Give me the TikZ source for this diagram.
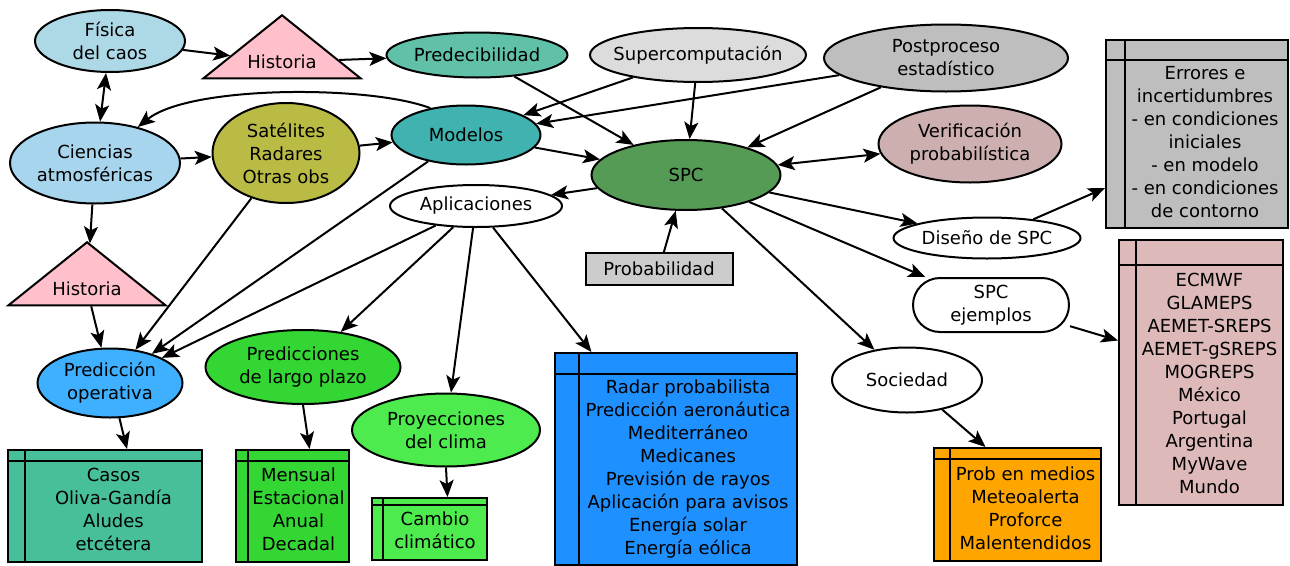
\documentclass[tikz,border=0pt]{standalone}
\usepackage{fontspec}
\setmainfont{DejaVu Sans}
\usetikzlibrary{arrows.meta, shapes.geometric}
\definecolor{caosfill}{HTML}{ADD8E6}
\definecolor{histfill}{HTML}{FFC0CB}
\definecolor{predfill}{HTML}{60C0A8}
\definecolor{supfill}{HTML}{DCDCDC}
\definecolor{postfill}{HTML}{BEBEBE}
\definecolor{ciefill}{HTML}{A8D5EE}
\definecolor{satfill}{HTML}{B9BB45}
\definecolor{modfill}{HTML}{40B2B0}
\definecolor{spcfill}{HTML}{559A55}
\definecolor{verfill}{HTML}{CDAFAF}
\definecolor{ejfill}{HTML}{DDB9B9}
\definecolor{opfill}{HTML}{3FAFFF}
\definecolor{largofill}{HTML}{33D633}
\definecolor{climafill}{HTML}{4DEB4D}
\definecolor{casosfill}{HTML}{47BF9A}
\definecolor{aplifill}{HTML}{1E90FF}
\definecolor{socfill}{HTML}{FFA500}
\definecolor{probfill}{HTML}{CCCCCC}
\definecolor{edgecol}{HTML}{000000}
% text of a list box, pushed right of the column and below the header
\newcommand{\boxlines}[3]{\hspace*{#1}\raisebox{0pt}[\dimexpr\height+#2\relax]{\begin{tabular}{@{}c@{}}#3\end{tabular}}}
\tikzset{
    every node/.style={font=\fontsize{18}{23}\selectfont},
    ell/.style={
        ellipse, draw=edgecol, line width=2pt, inner sep=0pt, align=center,
    },
    tri/.style={
        isosceles triangle, isosceles triangle apex angle=120,
        isosceles triangle stretches, shape border rotate=90,
        draw=edgecol, line width=2pt, fill=histfill, inner sep=0pt,
        minimum width=157pt, minimum height=63pt,
    },
    listbox/.style 2 args={
        rectangle, draw=edgecol, line width=2pt, inner sep=0pt,
        path picture={
            \draw[edgecol, line width=2pt]
                ([yshift=-#2]path picture bounding box.north west) --
                ([yshift=-#2]path picture bounding box.north east);
            \draw[edgecol, line width=2pt]
                ([xshift=#1]path picture bounding box.north west) --
                ([xshift=#1]path picture bounding box.south west);
        },
    },
    arr/.style={-{Stealth[length=17pt, width=14pt, inset=4pt]}, edgecol, line width=2pt},
    arrboth/.style={{Stealth[length=17pt, width=14pt, inset=4pt]}-{Stealth[length=17pt, width=14pt, inset=4pt]}, edgecol, line width=2pt},
}

\begin{document}
\begin{tikzpicture}[x=1pt, y=-1pt]
\useasboundingbox (0,0) rectangle (1290,565);

% ── Top row ────────────────────────────────────────────────────────
\node[ell, fill=caosfill, minimum width=150pt, minimum height=62pt] (fisica) at (110,41) {Física\\del caos};
\node[tri] (hist1) at (282,62) {Historia};
\node[ell, fill=predfill, minimum width=181pt, minimum height=45pt] (predec) at (477,55) {Predecibilidad};
\node[ell, fill=supfill, minimum width=216pt, minimum height=54pt, inner xsep=-12pt] (supcomp) at (698,55) {Supercomputación};
\node[ell, fill=postfill, minimum width=244pt, minimum height=67pt] (postpro) at (946,58) {Postproceso\\estadístico};

% ── Middle ─────────────────────────────────────────────────────────
\node[ell, fill=ciefill, minimum width=170pt, minimum height=81pt] (ciencias) at (95,163) {Ciencias\\atmosféricas};
\node[ell, fill=satfill, minimum width=147pt, minimum height=100pt] (satel) at (286,153) {Satélites\\Radares\\Otras obs};
\node[ell, fill=modfill, minimum width=149pt, minimum height=59pt] (modelos) at (466,135) {Modelos};
\node[ell, fill=spcfill, minimum width=189pt, minimum height=70pt] (spc) at (686,175) {SPC};
\node[ell, fill=verfill, minimum width=183pt, minimum height=77pt] (verif) at (970,144) {Verificación\\probabilística};
\node[ell, fill=white, minimum width=172pt, minimum height=42pt] (aplic) at (476,206) {Aplicaciones};
\node[ell, fill=white, minimum width=187pt, minimum height=41pt, inner xsep=-6pt] (diseno) at (987,238) {Diseño de SPC};
\node[rectangle, draw=edgecol, line width=2pt, fill=probfill, minimum width=147pt, minimum height=32pt] (probab) at (659,269) {Probabilidad};
\node[tri] (hist2) at (87,289) {Historia};
\node[rectangle, rounded corners=27pt, draw=edgecol, line width=2pt, fill=white, align=center,
      minimum width=156pt, minimum height=54pt, inner sep=0pt] (ejemplos) at (991,305) {SPC\\ejemplos};

% ── Lower ellipses ─────────────────────────────────────────────────
\node[ell, fill=opfill, minimum width=145pt, minimum height=69pt] (predop) at (110,383) {Predicción\\operativa};
\node[ell, fill=largofill, minimum width=195pt, minimum height=74pt] (largo) at (303,367) {Predicciones\\de largo plazo};
\node[ell, fill=climafill, minimum width=188pt, minimum height=73pt] (proyec) at (446,430) {Proyecciones\\del clima};
\node[ell, fill=white, minimum width=150pt, minimum height=65pt] (socied) at (907,380) {Sociedad};

% ── List boxes ─────────────────────────────────────────────────────
\node[listbox={19pt}{20pt}, fill=postfill, minimum width=182pt, minimum height=188pt] (errores) at (1197,134)
    {\boxlines{16pt}{20pt}{Errores e\\incertidumbres\\- en condiciones\\iniciales\\- en modelo\\- en condiciones\\de contorno}};
\node[listbox={17pt}{25pt}, fill=ejfill, minimum width=164pt, minimum height=265pt] (modlist) at (1201,372.5)
    {\boxlines{17pt}{25pt}{ECMWF\\GLAMEPS\\AEMET-SREPS\\AEMET-gSREPS\\MOGREPS\\México\\Portugal\\Argentina\\MyWave\\Mundo}};
\node[listbox={24pt}{21pt}, fill=aplifill, minimum width=242pt, minimum height=212pt] (aplilist) at (676,459)
    {\boxlines{24pt}{21pt}{Radar probabilista\\Predicción aeronáutica\\Mediterráneo\\Medicanes\\Previsión de rayos\\Aplicación para avisos\\Energía solar\\Energía eólica}};
\node[listbox={17pt}{11pt}, fill=casosfill, minimum width=194pt, minimum height=112pt] (casos) at (105,506)
    {\boxlines{17pt}{11pt}{Casos\\Oliva-Gandía\\Aludes\\etcétera}};
\node[listbox={12pt}{11pt}, fill=largofill, minimum width=113pt, minimum height=112pt] (plazos) at (292.5,506)
    {\boxlines{12pt}{11pt}{Mensual\\Estacional\\Anual\\Decadal}};
\node[listbox={11pt}{7pt}, fill=climafill, minimum width=115pt, minimum height=62pt] (cambio) at (429.5,529)
    {\boxlines{11pt}{7pt}{Cambio\\climático}};
\node[listbox={16pt}{11pt}, fill=socfill, minimum width=167pt, minimum height=113pt] (medios) at (1017.5,504.5)
    {\boxlines{16pt}{11pt}{Prob en medios\\Meteoalerta\\Proforce\\Malentendidos}};

% ── Edges ──────────────────────────────────────────────────────────
\draw[arr] (fisica) -- (hist1);
\draw[arr] (hist1) -- (predec);
\draw[arrboth] (fisica) -- (ciencias);
\draw[arr] (ciencias) -- (hist2);
\draw[arr] (ciencias) -- (satel);
\draw[arr] (satel) -- (modelos);
\draw[arr] (modelos.143) .. controls (370,85) and (190,85) .. (ciencias.40);
\draw[arr] (satel) -- (predop);
\draw[arr] (modelos) -- (predop);
\draw[arr] (aplic) -- (predop);
\draw[arr] (hist2) -- (predop);
\draw[arr] (aplic) -- (largo);
\draw[arr] (aplic) -- (proyec);
\draw[arr] (aplic) -- (aplilist);
\draw[arr] (predop.285) -- ([xshift=22pt]casos.north);
\draw[arr] (largo.south) -- ([xshift=17pt]plazos.north);
\draw[arr] (proyec.south) -- ([xshift=18pt]cambio.north);

\draw[arr] (predec) -- (spc);
\draw[arr] (supcomp) -- (modelos);
\draw[arr] (supcomp) -- (spc);
\draw[arr] (postpro) -- (modelos);
\draw[arr] (postpro) -- (spc);
\draw[arr] (modelos) -- (spc);
\draw[arr] (spc) -- (aplic);
\draw[arrboth] (spc) -- (verif);
\draw[arr] (probab) -- (spc);
\draw[arr] (spc) -- (diseno);
\draw[arr] (spc) -- (ejemplos);
\draw[arr] (spc) -- (socied);
\draw[arr] (diseno.22) -- ([yshift=-54pt]errores.west);
\draw[arr] (ejemplos.-15) -- ([yshift=32pt]modlist.west);
\draw[arr] (socied.-40) -- ([xshift=-32pt]medios.north);

\end{tikzpicture}
\end{document}
